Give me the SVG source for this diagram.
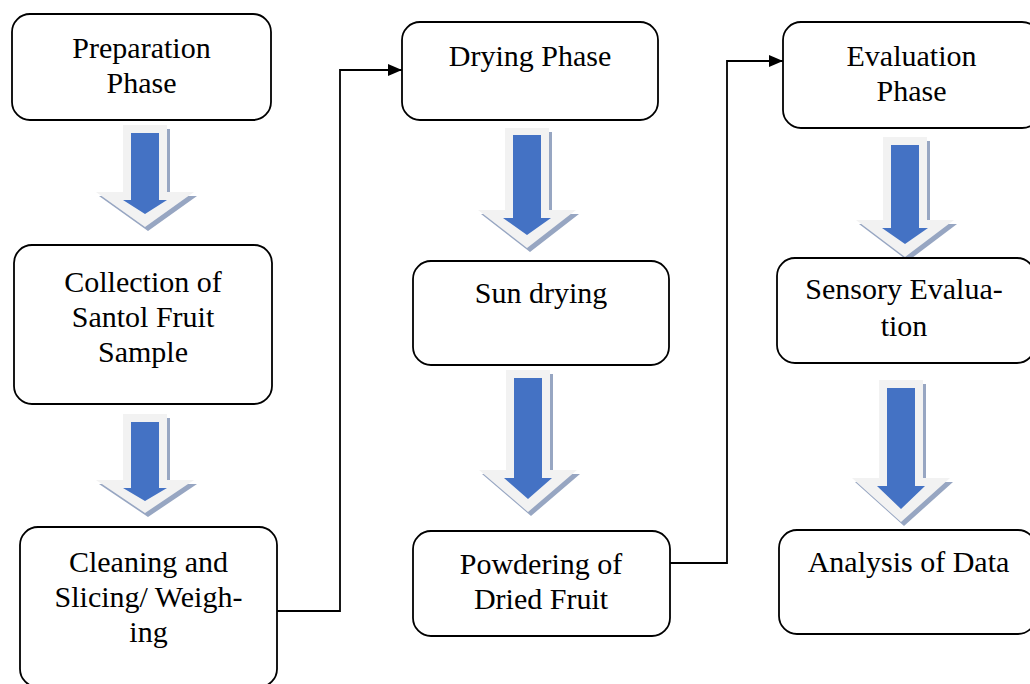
<svg xmlns="http://www.w3.org/2000/svg" width="1030" height="684" viewBox="0 0 1030 684">
<defs>
<style>
.box{fill:#fff;stroke:#000;stroke-width:1.8}
.t{font-family:"Liberation Serif","Times New Roman",serif;font-size:30px;fill:#000;text-anchor:middle}
.sh{fill:#97a6c2}
.out{fill:#f2f2f2}
.blue{fill:#4472c4}
.con{fill:none;stroke:#000;stroke-width:1.8}
</style>
<marker id="ah" viewBox="0 0 14 12" refX="14" refY="6" markerWidth="14" markerHeight="12" markerUnits="userSpaceOnUse" orient="auto">
<path d="M0,0 L14,6 L0,12 Z" fill="#000"/>
</marker>
</defs>
<rect width="1030" height="684" fill="#fff"/>

<g id="arrows">
<g transform="translate(145,0)">
<polygon class="sh" points="-19,129 25,129 25,196 52,196 3,231 -46,196 -19,196"/>
<polygon class="out" points="-22,125 22,125 22,192 49,192 0,227 -49,192 -22,192"/>
<polygon class="blue" points="-14,133 14,133 14,200 22,200 0,214 -22,200 -14,200"/>
</g>
<g transform="translate(145,0)">
<polygon class="sh" points="-19,418 25,418 25,484 52,484 3,517 -46,484 -19,484"/>
<polygon class="out" points="-22,414 22,414 22,480 49,480 0,513 -49,480 -22,480"/>
<polygon class="blue" points="-14,422 14,422 14,488 22,488 0,501 -22,488 -14,488"/>
</g>
<g transform="translate(527,0)">
<polygon class="sh" points="-19,132 25,132 25,214 52,214 3,252 -46,214 -19,214"/>
<polygon class="out" points="-22,128 22,128 22,210 49,210 0,248 -49,210 -22,210"/>
<polygon class="blue" points="-14,135 14,135 14,218 24,218 0,235 -24,218 -14,218"/>
</g>
<g transform="translate(528,0)">
<polygon class="sh" points="-19,374 25,374 25,474 52,474 3,516 -46,474 -19,474"/>
<polygon class="out" points="-22,370 22,370 22,470 49,470 0,512 -49,470 -22,470"/>
<polygon class="blue" points="-14,378 14,378 14,478 24,478 0,499 -24,478 -14,478"/>
</g>
<g transform="translate(905,0)">
<polygon class="sh" points="-19,141 25,141 25,224 52,224 3,261 -46,224 -19,224"/>
<polygon class="out" points="-22,137 22,137 22,220 49,220 0,257 -49,220 -22,220"/>
<polygon class="blue" points="-14,145 14,145 14,228 23,228 0,244 -23,228 -14,228"/>
</g>
<g transform="translate(901,0)">
<polygon class="sh" points="-19,384 25,384 25,482 52,482 3,526 -46,482 -19,482"/>
<polygon class="out" points="-22,380 22,380 22,478 49,478 0,522 -49,478 -22,478"/>
<polygon class="blue" points="-14,388 14,388 14,486 24,486 0,509 -24,486 -14,486"/>
</g>
</g>

<g id="connectors">
<polyline class="con" points="272,611 340,611 340,70 402,70" marker-end="url(#ah)"/>
<polyline class="con" points="670,563 727,563 727,61 783,61" marker-end="url(#ah)"/>
</g>

<g id="n1"><rect class="box" x="12" y="14" width="259" height="106" rx="18"/>
<text class="t" x="141.5" y="58">Preparation</text><text class="t" x="141.5" y="93">Phase</text></g>
<g id="n2"><rect class="box" x="14" y="245" width="258" height="159" rx="18"/>
<text class="t" x="143" y="292">Collection of</text><text class="t" x="143" y="327">Santol Fruit</text><text class="t" x="143" y="362">Sample</text></g>
<g id="n3"><rect class="box" x="20" y="527" width="257" height="160" rx="18"/>
<text class="t" x="148.5" y="572">Cleaning and</text><text class="t" x="148.5" y="607">Slicing/ Weigh-</text><text class="t" x="148.5" y="642">ing</text></g>
<g id="n4"><rect class="box" x="402" y="22" width="256" height="98" rx="18"/>
<text class="t" x="530" y="66">Drying Phase</text></g>
<g id="n5"><rect class="box" x="413" y="261" width="256" height="104" rx="18"/>
<text class="t" x="541" y="303">Sun drying</text></g>
<g id="n6"><rect class="box" x="413" y="531" width="257" height="105" rx="18"/>
<text class="t" x="541" y="574">Powdering of</text><text class="t" x="541" y="609">Dried Fruit</text></g>
<g id="n7"><rect class="box" x="783" y="22" width="257" height="106" rx="18"/>
<text class="t" x="911.5" y="66">Evaluation</text><text class="t" x="911.5" y="101">Phase</text></g>
<g id="n8"><rect class="box" x="777" y="258" width="258" height="105" rx="18"/>
<text class="t" x="904" y="299">Sensory Evalua-</text><text class="t" x="904" y="336">tion</text></g>
<g id="n9"><rect class="box" x="779" y="530" width="257" height="104" rx="18"/>
<text class="t" x="908.5" y="572">Analysis of Data</text></g>
</svg>
